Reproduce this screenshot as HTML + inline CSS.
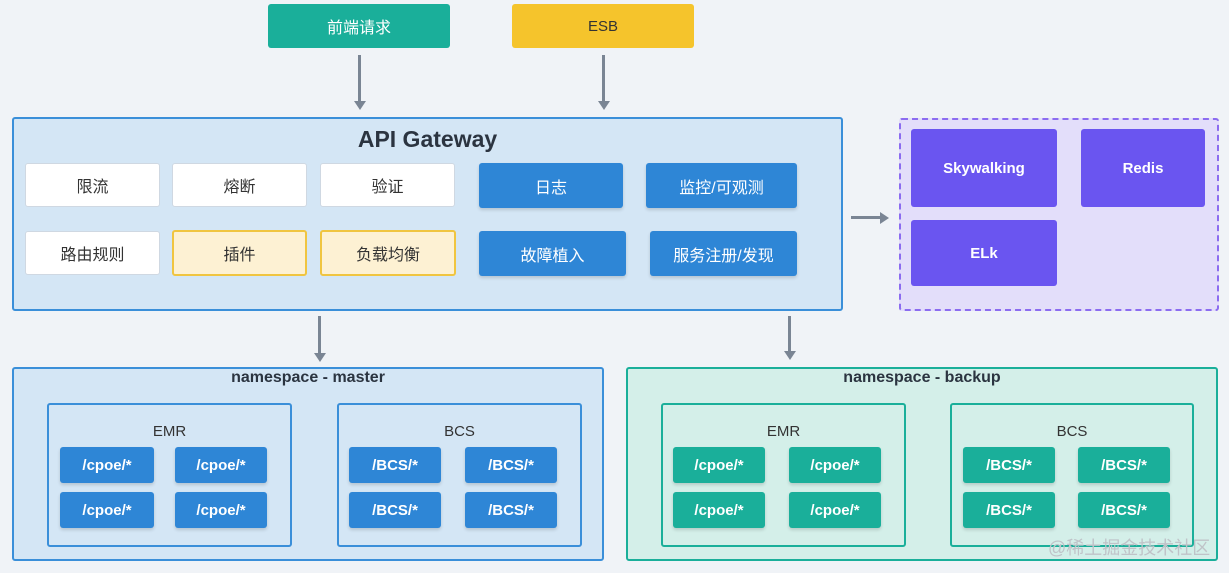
<!DOCTYPE html><html><head><meta charset="utf-8"><style>
body{margin:0;width:1229px;height:573px;background:#f0f3f7;position:relative;overflow:hidden;font-family:"Liberation Sans","Noto Sans CJK SC",sans-serif}
div{position:absolute;box-sizing:border-box}
.b{display:flex;align-items:center;justify-content:center;border-radius:3px;font-size:16px}
.w{background:#fff;border:1px solid #cfd8e2;color:#333}
.y{background:#fdf1d3;border:2px solid #f0c540;color:#333}
.bl{background:#2e86d6;color:#fff;box-shadow:0 2px 3px rgba(0,0,0,.15)}
.pu{background:#6a55f0;color:#fff;font-weight:bold;font-size:15px}
.c{background:#2e86d6;color:#fff;font-weight:bold;font-size:15px;box-shadow:0 2px 3px rgba(0,0,0,.15)}
.t{background:#1aaf9a;color:#fff;font-weight:bold;font-size:15px;box-shadow:0 2px 3px rgba(0,0,0,.15)}
.ln{background:#7a8594;width:3px}
.ah{width:0;height:0;border-left:6px solid transparent;border-right:6px solid transparent;border-top:9px solid #7a8594}
.in{border:2px solid #3a8fd9;border-radius:3px}
.lab{font-size:15px;color:#333;text-align:center;width:100%}
</style></head><body>
<div class="b" style="left:268px;top:4px;width:182px;height:44px;background:#1aaf9a;color:#fff">前端请求</div>
<div class="b" style="left:512px;top:4px;width:182px;height:44px;background:#f5c42c;color:#333;font-size:15px">ESB</div>
<div class="ln" style="left:358px;top:55px;height:47px"></div><div class="ah" style="left:353.5px;top:101px"></div>
<div class="ln" style="left:602px;top:55px;height:47px"></div><div class="ah" style="left:597.5px;top:101px"></div>
<div style="left:12px;top:117px;width:831px;height:194px;background:#d4e6f5;border:2px solid #3a8fd9;border-radius:3px"></div>
<div style="left:12px;top:126px;width:831px;text-align:center;font-size:23px;font-weight:bold;color:#2b3440">API Gateway</div>
<div class="b w" style="left:25px;top:163px;width:135px;height:44px">限流</div>
<div class="b w" style="left:172px;top:163px;width:135px;height:44px">熔断</div>
<div class="b w" style="left:320px;top:163px;width:135px;height:44px">验证</div>
<div class="b bl" style="left:479px;top:163px;width:144px;height:45px">日志</div>
<div class="b bl" style="left:646px;top:163px;width:151px;height:45px">监控/可观测</div>
<div class="b w" style="left:25px;top:231px;width:135px;height:44px">路由规则</div>
<div class="b y" style="left:172px;top:230px;width:135px;height:46px">插件</div>
<div class="b y" style="left:320px;top:230px;width:136px;height:46px">负载均衡</div>
<div class="b bl" style="left:479px;top:231px;width:147px;height:45px">故障植入</div>
<div class="b bl" style="left:650px;top:231px;width:147px;height:45px">服务注册/发现</div>
<div style="left:851px;top:216px;width:30px;height:3px;background:#7a8594"></div>
<div style="left:880px;top:211.5px;width:0;height:0;border-top:6px solid transparent;border-bottom:6px solid transparent;border-left:9px solid #7a8594"></div>
<div style="left:899px;top:118px;width:320px;height:193px;background:#e3defa;border:2px dashed #8b6cf0;border-radius:3px"></div>
<div class="b pu" style="left:911px;top:129px;width:146px;height:78px">Skywalking</div>
<div class="b pu" style="left:1081px;top:129px;width:124px;height:78px">Redis</div>
<div class="b pu" style="left:911px;top:220px;width:146px;height:66px">ELk</div>
<div class="ln" style="left:318px;top:316px;height:38px"></div><div class="ah" style="left:313.5px;top:353px"></div>
<div class="ln" style="left:788px;top:316px;height:36px"></div><div class="ah" style="left:783.5px;top:351px"></div>

<div style="left:12px;top:367px;width:592px;height:194px;background:#d4e6f5;border:2px solid #3a8fd9;border-radius:3px"></div>
<div style="left:12px;top:369px;width:592px;text-align:center;font-size:16px;font-weight:bold;color:#2b3440">namespace - master</div>
<div class="in" style="left:47px;top:403px;width:245px;height:144px"></div>
<div class="lab" style="left:47px;top:423px;width:245px">EMR</div>
<div class="in" style="left:337px;top:403px;width:245px;height:144px"></div>
<div class="lab" style="left:337px;top:423px;width:245px">BCS</div>
<div class="b c" style="left:60px;top:447px;width:94px;height:36px">/cpoe/*</div>
<div class="b c" style="left:175px;top:447px;width:92px;height:36px">/cpoe/*</div>
<div class="b c" style="left:60px;top:492px;width:94px;height:36px">/cpoe/*</div>
<div class="b c" style="left:175px;top:492px;width:92px;height:36px">/cpoe/*</div>
<div class="b c" style="left:349px;top:447px;width:92px;height:36px">/BCS/*</div>
<div class="b c" style="left:465px;top:447px;width:92px;height:36px">/BCS/*</div>
<div class="b c" style="left:349px;top:492px;width:92px;height:36px">/BCS/*</div>
<div class="b c" style="left:465px;top:492px;width:92px;height:36px">/BCS/*</div>

<div style="left:626px;top:367px;width:592px;height:194px;background:#d4efe9;border:2px solid #1aaf9a;border-radius:3px"></div>
<div style="left:626px;top:369px;width:592px;text-align:center;font-size:16px;font-weight:bold;color:#2b3440">namespace - backup</div>
<div class="in" style="left:661px;top:403px;width:245px;height:144px;border-color:#1aaf9a"></div>
<div class="lab" style="left:661px;top:423px;width:245px">EMR</div>
<div class="in" style="left:950px;top:403px;width:244px;height:144px;border-color:#1aaf9a"></div>
<div class="lab" style="left:950px;top:423px;width:244px">BCS</div>
<div class="b t" style="left:673px;top:447px;width:92px;height:36px">/cpoe/*</div>
<div class="b t" style="left:789px;top:447px;width:92px;height:36px">/cpoe/*</div>
<div class="b t" style="left:673px;top:492px;width:92px;height:36px">/cpoe/*</div>
<div class="b t" style="left:789px;top:492px;width:92px;height:36px">/cpoe/*</div>
<div class="b t" style="left:963px;top:447px;width:92px;height:36px">/BCS/*</div>
<div class="b t" style="left:1078px;top:447px;width:92px;height:36px">/BCS/*</div>
<div class="b t" style="left:963px;top:492px;width:92px;height:36px">/BCS/*</div>
<div class="b t" style="left:1078px;top:492px;width:92px;height:36px">/BCS/*</div>
<div style="left:1048px;top:534px;font-size:18px;color:#bfc3c8;white-space:nowrap">@稀土掘金技术社区</div>
</body></html>
